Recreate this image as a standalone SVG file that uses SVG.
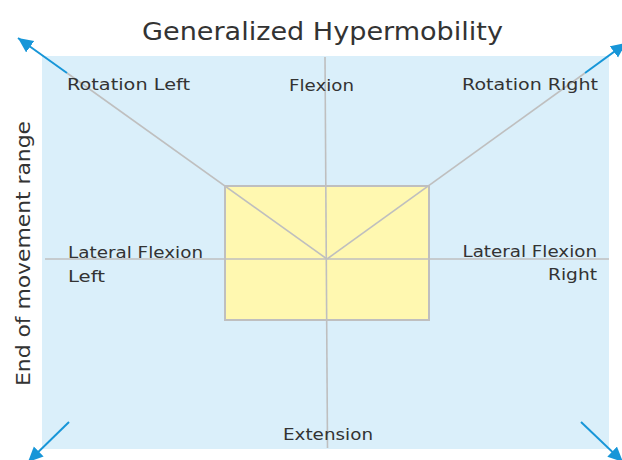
<svg xmlns="http://www.w3.org/2000/svg" width="622" height="460" viewBox="0 0 622 460">
  <style>
    .lbl { font-family: "DejaVu Sans", "Open Sans", sans-serif; font-size: 15.5px; fill: #333333; }
    .title { font-family: "DejaVu Sans", "Open Sans", sans-serif; font-size: 25px; fill: #333333; }
    .axis { stroke: #bfbfbf; stroke-width: 1.6; fill: none; }
    .arrow { stroke: #1796d8; stroke-width: 2; fill: none; marker-end: url(#head); }
  </style>
  <defs>
    <marker id="head" markerUnits="userSpaceOnUse" markerWidth="18" markerHeight="16" refX="15" refY="7" orient="auto">
      <path d="M0,0 L15,7 L0,14 Z" fill="#1796d8"/>
    </marker>
  </defs>

  <!-- white page -->
  <rect x="0" y="0" width="622" height="460" fill="#ffffff"/>

  <!-- movement field -->
  <g id="field">
    <rect x="42" y="56" width="567" height="393" fill="#daeffa"/>
  </g>

  <!-- neutral zone -->
  <g id="neutral-zone">
    <rect x="225" y="186" width="204" height="134" fill="#fff8b0" stroke="#bfbfbf" stroke-width="2"/>
  </g>

  <g id="connectors">
    <!-- axes through the neutral point -->
    <line class="axis" x1="325" y1="57" x2="327.5" y2="448"/>
    <line class="axis" x1="45" y1="259" x2="609" y2="259"/>
    <line class="axis" x1="327" y1="259" x2="67" y2="73"/>
    <line class="axis" x1="327" y1="259" x2="585" y2="73"/>
    <!-- end-of-range arrows -->
    <line class="arrow" x1="67" y1="73" x2="18" y2="38"/>
    <line class="arrow" x1="585" y1="73" x2="626" y2="43"/>
    <line class="arrow" x1="69" y1="422" x2="28" y2="462"/>
    <line class="arrow" x1="581" y1="422" x2="623" y2="462"/>
  </g>

  <!-- titles -->
  <g id="title">
    <text class="title" x="142" y="40" textLength="361" lengthAdjust="spacingAndGlyphs">Generalized Hypermobility</text>
  </g>
  <g id="axis-title">
    <text class="lbl" style="font-size:19.5px" transform="translate(30,386) rotate(-90)" textLength="265" lengthAdjust="spacingAndGlyphs">End of movement range</text>
  </g>

  <!-- direction labels -->
  <g id="rotation-left">
    <text class="lbl" x="67" y="90" textLength="123" lengthAdjust="spacingAndGlyphs">Rotation Left</text>
  </g>
  <g id="flexion">
    <text class="lbl" x="289" y="91" textLength="65" lengthAdjust="spacingAndGlyphs">Flexion</text>
  </g>
  <g id="rotation-right">
    <text class="lbl" x="462" y="90" textLength="136" lengthAdjust="spacingAndGlyphs">Rotation Right</text>
  </g>
  <g id="lateral-flexion-left">
    <text class="lbl" x="68" y="258" textLength="135" lengthAdjust="spacingAndGlyphs">Lateral Flexion</text>
    <text class="lbl" x="68" y="281.5" textLength="37" lengthAdjust="spacingAndGlyphs">Left</text>
  </g>
  <g id="lateral-flexion-right">
    <text class="lbl" x="462.5" y="257" textLength="134.5" lengthAdjust="spacingAndGlyphs">Lateral Flexion</text>
    <text class="lbl" x="548" y="280" textLength="49" lengthAdjust="spacingAndGlyphs">Right</text>
  </g>
  <g id="extension">
    <text class="lbl" x="283" y="440" textLength="90" lengthAdjust="spacingAndGlyphs">Extension</text>
  </g>
</svg>
